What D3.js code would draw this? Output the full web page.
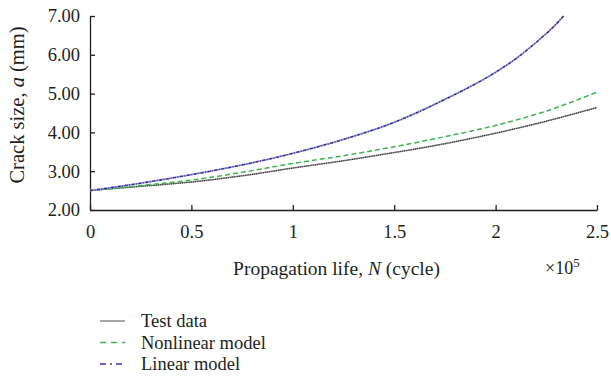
<!DOCTYPE html>
<html><head><meta charset="utf-8">
<script src="https://cdn.jsdelivr.net/npm/d3@7"></script>
<style>body{margin:0;background:#fff}svg{display:block}text{font-family:"Liberation Serif","Times New Roman",serif;fill:#231f20}</style>
</head><body><svg id="c" width="611" height="387"></svg>
<script>
const xTicks = [0, 0.5, 1, 1.5, 2, 2.5];
const xTickLabels = ["0", "0.5", "1", "1.5", "2", "2.5"];
const yTicks = [2, 3, 4, 5, 6, 7];
const yTickLabels = ["2.00", "3.00", "4.00", "5.00", "6.00", "7.00"];
const seriesNames = ["Test data", "Nonlinear model", "Linear model"];

const testN = [0, 0.25, 0.5, 0.75, 1.0, 1.25, 1.5, 1.75, 2.0, 2.25, 2.5];
const testA = [2.50, 2.61, 2.72, 2.88, 3.08, 3.27, 3.48, 3.71, 3.98, 4.29, 4.64];
const nonlinN = [0, 0.25, 0.5, 0.75, 1.0, 1.25, 1.5, 1.75, 2.0, 2.25, 2.5];
const nonlinA = [2.50, 2.63, 2.77, 2.97, 3.20, 3.40, 3.63, 3.89, 4.18, 4.55, 5.04];
const linN = [0, 0.25, 0.5, 0.75, 1.0, 1.25, 1.5, 1.75, 2.0, 2.1, 2.2, 2.3, 2.335];
const linA = [2.50, 2.69, 2.91, 3.16, 3.46, 3.82, 4.26, 4.85, 5.55, 5.90, 6.32, 6.80, 7.00];

const svg = d3.select("#c");
const L = 90, R = 597, T = 16, B = 210;
const x = d3.scaleLinear().domain([0, 2.5]).range([L, R]);
const y = d3.scaleLinear().domain([2, 7]).range([B, T]);

const xAxis = d3.axisBottom(x).tickValues(xTicks).tickFormat((d,i)=>xTickLabels[i]).tickSizeInner(-5).tickSizeOuter(0).tickPadding(15);
const gx = svg.append("g").attr("transform", `translate(0,${B})`).call(xAxis);
const yAxis = d3.axisLeft(y).tickValues(yTicks).tickFormat((d,i)=>yTickLabels[i]).tickSizeInner(-5).tickSizeOuter(0).tickPadding(10);
const gy = svg.append("g").attr("transform", `translate(${L},0)`).call(yAxis);
[gx, gy].forEach(g => {
  g.selectAll("path.domain").attr("stroke", "#231f20").attr("stroke-width", 1.3);
  g.selectAll(".tick line").attr("stroke", "#231f20").attr("stroke-width", 1.3);
  g.selectAll(".tick text").style("font-size", "18.5px").style("font-family", "Liberation Serif").attr("fill", "#231f20");
});

svg.append("text").attr("transform", `translate(24,${(T+B)/2 - 8}) rotate(-90)`).attr("text-anchor", "middle").style("font-size", "20.5px")
  .html('Crack size, <tspan font-style="italic">a</tspan> (mm)');
svg.append("text").attr("x", (L+R)/2 - 7).attr("y", 275).attr("text-anchor", "middle").style("font-size", "19.5px")
  .html('Propagation life, <tspan font-style="italic">N</tspan> (cycle)');
svg.append("text").attr("x", 545).attr("y", 274).style("font-size", "18px")
  .html('×10<tspan dy="-7" font-size="13px">5</tspan>');

const line = d3.line().x(d=>x(d[0])).y(d=>y(d[1])).curve(d3.curveMonotoneX);
const test = testN.map((n,i)=>[n, testA[i]]);
const nonlin = nonlinN.map((n,i)=>[n, nonlinA[i]]);
const lin = linN.map((n,i)=>[n, linA[i]]);

svg.append("path").datum(test).attr("d", line).attr("fill","none").attr("stroke","#9a9a9a").attr("stroke-width",1.5);
svg.append("path").datum(test).attr("d", line).attr("fill","none").attr("stroke","#222").attr("stroke-width",1.2).attr("stroke-dasharray","1,1.2");
svg.append("path").datum(nonlin).attr("d", line).attr("fill","none").attr("stroke","#3cb44b").attr("stroke-width",1.5).attr("stroke-dasharray","5,3");
svg.append("path").datum(lin).attr("d", line).attr("fill","none").attr("stroke","#9a98d8").attr("stroke-width",1.8);
svg.append("path").datum(lin).attr("d", line).attr("fill","none").attr("stroke","#2e2a8c").attr("stroke-width",1.3).attr("stroke-dasharray","3,1.5,1,1.5");

const legY = [321, 342.5, 364];
const legStyles = [
  {stroke:"#777", dash:null},
  {stroke:"#3cb44b", dash:"6,5"},
  {stroke:"#3d3a9e", dash:"6,4,2,4"}
];
seriesNames.forEach((name, i) => {
  svg.append("line").attr("x1", 100).attr("x2", 125).attr("y1", legY[i]).attr("y2", legY[i])
    .attr("stroke", legStyles[i].stroke).attr("stroke-width", 1.3).attr("stroke-dasharray", legStyles[i].dash);
  svg.append("text").attr("x", 141).attr("y", legY[i] + 6).style("font-size", "18.5px").text(name);
});
</script></body></html>
